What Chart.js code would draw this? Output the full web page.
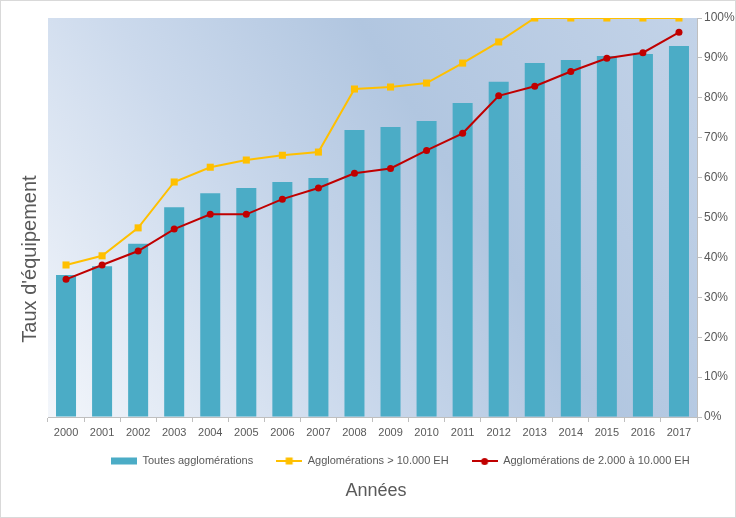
<!DOCTYPE html>
<html>
<head>
<meta charset="utf-8">
<script src="https://cdn.jsdelivr.net/npm/chart.js@4.4.1/dist/chart.umd.min.js"></script>
<style>
html, body { margin: 0; padding: 0; background: #fff; }
#wrap { width: 736px; height: 518px; box-sizing: border-box; border: 1px solid #d9d9d9; }
canvas { display: block; }
</style>
</head>
<body>
<div id="wrap"><canvas id="chart" width="734" height="516"></canvas></div>
<script>
// valeurs (en %)
const years = ['2000', '2001', '2002', '2003', '2004', '2005', '2006', '2007', '2008',
               '2009', '2010', '2011', '2012', '2013', '2014', '2015', '2016', '2017'];
const toutes = [35.6, 37.8, 43.4, 52.6, 56.1, 57.4, 58.9, 59.9, 71.9,
                72.7, 74.2, 78.7, 84.0, 88.7, 89.5, 90.5, 91.0, 93.0];
const plus10000 = [38.1, 40.4, 47.4, 58.9, 62.6, 64.4, 65.6, 66.4, 82.2,
                   82.7, 83.7, 88.7, 94.0, 100, 100, 100, 100, 100];
const de2000a10000 = [34.5, 38.1, 41.6, 47.1, 50.8, 50.8, 54.6, 57.4, 61.1,
                      62.3, 66.8, 71.1, 80.5, 82.9, 86.6, 89.9, 91.3, 96.4];
const seriesNames = ['Toutes agglomérations', 'Agglomérations > 10.000 EH', 'Agglomérations de 2.000 à 10.000 EH'];

const TEAL = '#4bacc6';
const YELLOW = '#ffc000';
const RED = '#c00000';
const GREY_TEXT = '#595959';
const AXIS = '#bfbfbf';

Chart.defaults.font.family = "'Liberation Sans', Arial, sans-serif";
Chart.defaults.color = GREY_TEXT;

// petites icones pour la legende
function makeIcon(kind) {
    const c = document.createElement('canvas');
    c.width = 26;
    c.height = 10;
    const g = c.getContext('2d');
    if (kind === 'bar') {
        g.fillStyle = TEAL;
        g.fillRect(0, 1.5, 26, 7);
    } else {
        const col = kind === 'square' ? YELLOW : RED;
        g.strokeStyle = col;
        g.fillStyle = col;
        g.lineWidth = 2;
        g.beginPath();
        g.moveTo(0, 5);
        g.lineTo(26, 5);
        g.stroke();
        if (kind === 'square') {
            g.fillRect(9.5, 1.5, 7, 7);
        } else {
            g.beginPath();
            g.arc(13, 5.5, 3.5, 0, Math.PI * 2);
            g.fill();
        }
    }
    return c;
}
const legendIcons = [makeIcon('bar'), makeIcon('square'), makeIcon('circle')];

const decor = {
    id: 'decor',
    afterLayout(chart) {
        // placer la legende comme sur l'original
        const lg = chart.legend;
        const pad = lg.options.labels.padding;
        const x0 = (lg.left + pad + lg.right - lg.lineWidths[0]) / 2;
        const dx = 110 - x0;
        const dy = 460 - (lg.top + pad + 5.5);
        lg.left += dx; lg.right += dx;
        lg.top += dy; lg.bottom += dy;
    },
    beforeDatasetsDraw(chart) {
        const {ctx, chartArea: a} = chart;
        const grad = ctx.createLinearGradient(a.left, a.bottom, a.right, a.top);
        grad.addColorStop(0, '#f3f6fb');
        grad.addColorStop(0.35, '#cbd9ec');
        grad.addColorStop(0.62, '#b1c6e0');
        grad.addColorStop(1, '#c3d3e8');
        ctx.save();
        ctx.fillStyle = grad;
        ctx.fillRect(a.left, a.top, a.right - a.left, a.bottom - a.top);
        ctx.restore();
    },
    afterDraw(chart) {
        const ctx = chart.ctx;
        ctx.save();
        ctx.fillStyle = GREY_TEXT;
        ctx.textAlign = 'center';
        ctx.textBaseline = 'middle';
        ctx.font = "20px 'Liberation Sans', Arial, sans-serif";
        ctx.translate(29, 258);
        ctx.rotate(-Math.PI / 2);
        ctx.fillText("Taux d'équipement", 0, 0);
        ctx.restore();

        ctx.save();
        ctx.fillStyle = GREY_TEXT;
        ctx.textAlign = 'center';
        ctx.textBaseline = 'middle';
        ctx.font = "18px 'Liberation Sans', Arial, sans-serif";
        ctx.fillText('Années', 375, 490);
        ctx.restore();
    }
};

new Chart(document.getElementById('chart'), {
    data: {
        labels: years,
        datasets: [{
            type: 'bar',
            label: seriesNames[0],
            data: toutes,
            backgroundColor: TEAL,
            barPercentage: 0.555,
            categoryPercentage: 1,
            order: 3
        }, {
            type: 'line',
            label: seriesNames[1],
            data: plus10000,
            borderColor: YELLOW,
            backgroundColor: YELLOW,
            borderWidth: 2,
            pointStyle: 'rect',
            pointRadius: 5,
            pointBorderWidth: 0,
            tension: 0,
            order: 2
        }, {
            type: 'line',
            label: seriesNames[2],
            data: de2000a10000,
            borderColor: RED,
            backgroundColor: RED,
            borderWidth: 2,
            pointStyle: 'circle',
            pointRadius: 3.5,
            pointBorderWidth: 0,
            tension: 0,
            order: 1
        }]
    },
    options: {
        responsive: false,
        animation: false,
        layout: { padding: { left: 47, top: 17, right: 0, bottom: 34 } },
        scales: {
            x: {
                offset: true,
                grid: { display: true, drawOnChartArea: false, offset: true, tickLength: 5, color: AXIS },
                border: { color: AXIS },
                ticks: { font: { size: 11 }, padding: 4, maxRotation: 0, color: GREY_TEXT },
                afterFit(s) { s.height = 22; }
            },
            y: {
                position: 'right',
                min: 0,
                max: 100,
                grid: { drawOnChartArea: false, tickLength: 5, color: AXIS },
                border: { color: AXIS },
                ticks: { stepSize: 10, padding: 2, font: { size: 12 }, color: GREY_TEXT,
                         callback: v => v + '%' },
                afterFit(s) { s.width = 38; }
            }
        },
        plugins: {
            tooltip: { enabled: false },
            legend: {
                position: 'bottom',
                labels: {
                    usePointStyle: true,
                    pointStyleWidth: 26,
                    padding: 23,
                    font: { size: 11 },
                    color: GREY_TEXT,
                    sort: (a, b) => a.datasetIndex - b.datasetIndex,
                    generateLabels(chart) {
                        const items = Chart.defaults.plugins.legend.labels.generateLabels(chart);
                        items.forEach(it => { it.pointStyle = legendIcons[it.datasetIndex]; });
                        return items;
                    }
                }
            }
        }
    },
    plugins: [decor]
});
</script>
</body>
</html>
